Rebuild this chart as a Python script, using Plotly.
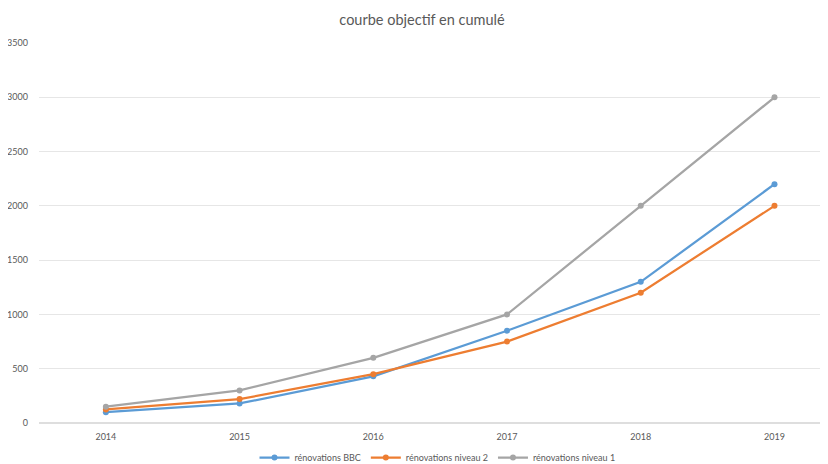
import plotly.graph_objects as go

years = ["2014", "2015", "2016", "2017", "2018", "2019"]
bbc = [100, 180, 430, 850, 1300, 2200]
niveau2 = [125, 220, 450, 750, 1200, 2000]
niveau1 = [150, 300, 600, 1000, 2000, 3000]

series = [
    ("rénovations BBC", bbc, "#5B9BD5"),
    ("rénovations niveau 2", niveau2, "#ED7D31"),
    ("rénovations niveau 1", niveau1, "#A5A5A5"),
]

fig = go.Figure()
for name, vals, col in series:
    fig.add_trace(go.Scatter(
        x=years, y=vals, name=name, mode="lines+markers",
        line=dict(color=col, width=2.25),
        marker=dict(color=col, size=6),
    ))

fig.update_layout(
    width=828, height=464,
    paper_bgcolor="white", plot_bgcolor="white",
    font=dict(family="Lato, Open Sans, sans-serif", color="#595959", size=9),
    title=dict(text="courbe objectif en cumulé", x=0.5, xanchor="center",
               y=0.974, yanchor="middle", font=dict(size=14.5, color="#595959")),
    margin=dict(l=31, r=0, t=35, b=49),
    showlegend=True,
    legend=dict(orientation="h", x=0.5, xanchor="center", y=-0.092, yanchor="middle",
                font=dict(size=9, color="#595959"), traceorder="normal"),
    xaxis=dict(type="category", range=[-0.5, 5.46], showgrid=False, showline=False,
               zeroline=False, ticks="", ticklabelstandoff=7,
               tickfont=dict(size=9, color="#595959")),
    yaxis=dict(range=[0, 3500], dtick=500, showgrid=True, gridcolor="#E6E6E6",
               gridwidth=1, zeroline=True, zerolinecolor="#DEDEDE", showline=False,
               ticks="", ticklabelstandoff=10, tickfont=dict(size=9, color="#595959")),
)

fig.write_html("out.html")
